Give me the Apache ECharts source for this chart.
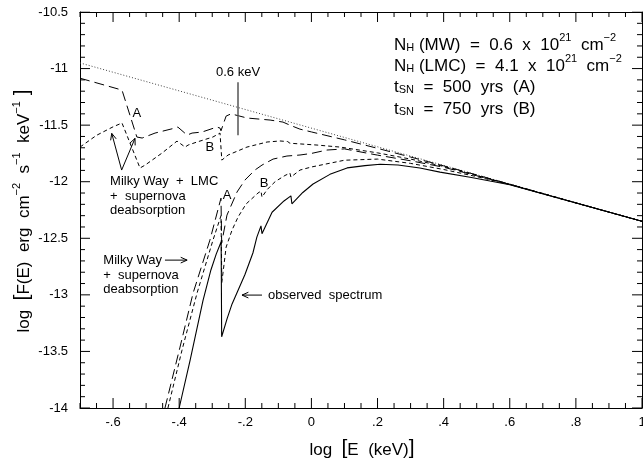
<!DOCTYPE html>
<html>
<head>
<meta charset="utf-8">
<script src="https://cdn.jsdelivr.net/npm/echarts@6/dist/echarts.min.js"></script>
<style>
html, body { margin: 0; padding: 0; background: #fff; }
#chart { width: 643px; height: 461px; }
</style>
</head>
<body>
<div id="chart"></div>
<script>
// log E (keV) against log F(E)
const intrinsic = [[-0.7, -10.95], [1.0, -12.35]];

const observed = [
  [-0.40, -14.0], [-0.367, -13.58], [-0.328, -13.05], [-0.304, -12.78], [-0.288, -12.64], [-0.273, -12.53],
  [-0.2715, -13.37], [-0.255, -13.21], [-0.240, -13.08], [-0.201, -12.82], [-0.177, -12.63], [-0.165, -12.49],
  [-0.1525, -12.39], [-0.1495, -12.46], [-0.119, -12.27], [-0.083, -12.17], [-0.062, -12.125], [-0.059, -12.195],
  [-0.026, -12.095], [0.005, -12.02], [0.056, -11.935], [0.108, -11.878], [0.110, -11.89], [0.162, -11.858],
  [0.208, -11.846], [0.262, -11.852], [0.328, -11.879], [0.389, -11.915], [0.48, -11.96], [0.54, -11.994],
  [0.6, -12.027], [0.8, -12.188], [1.0, -12.35]
];

// Milky Way + LMC + supernova deabsorption
const mwLmcA = [
  [-0.7, -11.085], [-0.573, -11.19], [-0.528, -11.605], [-0.512, -11.614], [-0.473, -11.57], [-0.413, -11.526],
  [-0.404, -11.517], [-0.376, -11.588], [-0.361, -11.57], [-0.331, -11.561], [-0.286, -11.517], [-0.2765, -11.526],
  [-0.2735, -11.55], [-0.258, -11.42], [-0.243, -11.40], [-0.195, -11.437], [-0.125, -11.455], [-0.086, -11.473],
  [-0.065, -11.50], [-0.035, -11.535], [0.0, -11.56], [0.1, -11.63], [0.2, -11.705], [0.3, -11.782],
  [0.4, -11.86], [0.5, -11.94], [0.6, -12.022], [0.8, -12.187], [1.0, -12.35]
];
const mwLmcB = [
  [-0.7, -11.694], [-0.65, -11.59], [-0.6, -11.515], [-0.573, -11.481], [-0.5185, -11.879], [-0.503, -11.853],
  [-0.452, -11.747], [-0.4066, -11.641], [-0.403, -11.632], [-0.382, -11.694], [-0.373, -11.676], [-0.346, -11.649],
  [-0.298, -11.605], [-0.2765, -11.57], [-0.273, -11.565], [-0.271, -11.809], [-0.252, -11.764], [-0.195, -11.694],
  [-0.134, -11.649], [-0.095, -11.64], [-0.072, -11.645], [-0.065, -11.66], [0.017, -11.676], [0.087, -11.694],
  [0.2, -11.745], [0.3, -11.80], [0.4, -11.865], [0.5, -11.945], [0.6, -12.023], [0.8, -12.187], [1.0, -12.35]
];

// Milky Way + supernova deabsorption
const mwA = [
  [-0.443, -14.0], [-0.3975, -13.462], [-0.358, -12.985], [-0.307, -12.516], [-0.2735, -12.145], [-0.2715, -12.542],
  [-0.2554, -12.295], [-0.225, -12.091], [-0.201, -11.985], [-0.171, -11.897], [-0.1495, -11.853], [-0.116, -11.80],
  [-0.074, -11.773], [-0.0345, -11.764], [0.0, -11.75], [0.047, -11.72], [0.1, -11.71], [0.2, -11.765],
  [0.3, -11.815], [0.4, -11.872], [0.5, -11.947], [0.6, -12.024], [0.8, -12.187], [1.0, -12.35]
];
const mwB = [
  [-0.434, -14.0], [-0.3915, -13.489], [-0.346, -12.985], [-0.2977, -12.516], [-0.2735, -12.30], [-0.271, -12.89],
  [-0.258, -12.578], [-0.240, -12.427], [-0.222, -12.313], [-0.198, -12.198], [-0.1616, -12.10], [-0.1525, -12.083],
  [-0.1495, -12.136], [-0.134, -12.07], [-0.110, -12.0], [-0.080, -11.945], [-0.065, -11.924], [-0.062, -11.959],
  [-0.0345, -11.897], [0.0, -11.87], [0.1, -11.81], [0.2, -11.80], [0.3, -11.838], [0.4, -11.892],
  [0.5, -11.955], [0.6, -12.025], [0.8, -12.188], [1.0, -12.35]
];

// tick positions
const xMajor = [-0.6, -0.4, -0.2, 0, 0.2, 0.4, 0.6, 0.8, 1];
const xTickVals = [-0.7, -0.65, -0.6, -0.55, -0.5, -0.45, -0.4, -0.35, -0.3, -0.25, -0.2, -0.15,
  -0.1, -0.05, 0, 0.05, 0.1, 0.15, 0.2, 0.25, 0.3, 0.35, 0.4, 0.45, 0.5, 0.55, 0.6, 0.65, 0.7,
  0.75, 0.8, 0.85, 0.9, 0.95, 1];
const yMajor = [-14, -13.5, -13, -12.5, -12, -11.5, -11, -10.5];
const yTickVals = [-14, -13.9, -13.8, -13.7, -13.6, -13.5, -13.4, -13.3, -13.2, -13.1, -13, -12.9,
  -12.8, -12.7, -12.6, -12.5, -12.4, -12.3, -12.2, -12.1, -12, -11.9, -11.8, -11.7, -11.6, -11.5,
  -11.4, -11.3, -11.2, -11.1, -11, -10.9, -10.8, -10.7, -10.6, -10.5];
const edgeMarker = [[-0.222, -11.12], [-0.222, -11.59]]; // 0.6 keV

const X_MIN = -0.7, X_MAX = 1, Y_MIN = -14, Y_MAX = -10.5;
const FONT = '"Liberation Sans", Arial, Helvetica, sans-serif';
const GRID = { left: 80, right: 1, top: 12, bottom: 53 };
const GRID_W = 643 - GRID.left - GRID.right, GRID_H = 461 - GRID.top - GRID.bottom;
const dxPx = (X_MAX - X_MIN) / GRID_W, dyPx = (Y_MAX - Y_MIN) / GRID_H;
const MAJOR_LEN = 10, MINOR_LEN = 5;

// inward tick marks on all four sides as broken line segments in data space
const tickPath = [];
xTickVals.forEach(function (v) {
  const len = (xMajor.indexOf(v) >= 0 ? MAJOR_LEN : MINOR_LEN) * dyPx;
  tickPath.push([v, Y_MIN], [v, Y_MIN + len], [v, '-']);
  tickPath.push([v, Y_MAX], [v, Y_MAX - len], [v, '-']);
});
yTickVals.forEach(function (v) {
  const len = (yMajor.indexOf(v) >= 0 ? MAJOR_LEN : MINOR_LEN) * dxPx;
  tickPath.push([X_MIN, v], [X_MIN + len, v], ['-', v]);
  tickPath.push([X_MAX, v], [X_MAX - len, v], ['-', v]);
});

const chart = echarts.init(document.getElementById('chart'));

function curve(name, data, dash, color, z, width) {
  return {
    name: name, type: 'line', data: data, showSymbol: false, symbol: 'none',
    xAxisIndex: 0, yAxisIndex: 0, z: z || 3, silent: true, connectNulls: false,
    lineStyle: { color: color || '#000', width: width || 1, type: dash }
  };
}

const dotted = curve('unabsorbed', intrinsic, [1, 2], '#444', 2);
dotted.markLine = {
  silent: true, animation: false, symbol: ['none', 'none'], label: { show: false },
  emphasis: { disabled: true },
  lineStyle: { type: 'solid', color: '#555', width: 1.5 },
  data: [[{ coord: edgeMarker[0] }, { coord: edgeMarker[1] }]]
};

const frameLine = { show: true, onZero: false, lineStyle: { color: '#000', width: 1 } };
chart.setOption({
  animation: false,
  backgroundColor: '#fff',
  grid: Object.assign({ containLabel: false, outerBoundsMode: 'none' }, GRID),
  xAxis: [
    { type: 'value', min: X_MIN, max: X_MAX, position: 'bottom', axisLine: frameLine,
      axisTick: { show: false }, splitLine: { show: false },
      axisLabel: {
        show: true, customValues: xMajor, margin: 8, fontSize: 13, color: '#000', fontFamily: FONT,
        formatter: v => v === 0 ? '0' : String(v).replace('0.', '.')
      } },
    { type: 'value', min: X_MIN, max: X_MAX, position: 'top', axisLine: frameLine,
      axisTick: { show: false }, splitLine: { show: false }, axisLabel: { show: false } }
  ],
  yAxis: [
    { type: 'value', min: Y_MIN, max: Y_MAX, interval: 0.5, position: 'left', axisLine: frameLine,
      axisTick: { show: false }, splitLine: { show: false },
      axisLabel: { margin: 12, fontSize: 13, color: '#000', fontFamily: FONT } },
    { type: 'value', min: Y_MIN, max: Y_MAX, interval: 0.5, position: 'right', axisLine: frameLine,
      axisTick: { show: false }, splitLine: { show: false }, axisLabel: { show: false } }
  ],
  series: [
    dotted,
    curve('MW+LMC A', mwLmcA, [10, 5]),
    curve('MW+LMC B', mwLmcB, [4, 3]),
    curve('MW A', mwA, [10, 5]),
    curve('MW B', mwB, [4, 3]),
    curve('observed', observed, 'solid', '#000', 4, 1.1),
    curve('frame ticks', tickPath, 'solid', '#000', 6, 1)
  ]
});

// annotations placed through the grid's scales
const toPx = p => chart.convertToPixel({ xAxisIndex: 0, yAxisIndex: 0 }, p);

function seg(x1, y1, x2, y2) {
  return { type: 'line', silent: true, shape: { x1: x1, y1: y1, x2: x2, y2: y2 },
    style: { stroke: '#000', lineWidth: 1 } };
}
function note(str, at, align, size) {
  const p = toPx(at);
  return { type: 'text', x: p[0], y: p[1], silent: true,
    style: { text: str, fill: '#000', font: (size || 13) + 'px ' + FONT,
      textAlign: align || 'left', textVerticalAlign: 'middle' } };
}
function arrow(from, to) {
  const a = toPx(from), b = toPx(to);
  const ang = Math.atan2(b[1] - a[1], b[0] - a[0]);
  const h = 7, w = 0.42;
  const p1 = [b[0] - h * Math.cos(ang - w), b[1] - h * Math.sin(ang - w)];
  const p2 = [b[0] - h * Math.cos(ang + w), b[1] - h * Math.sin(ang + w)];
  return [
    seg(a[0], a[1], b[0], b[1]),
    { type: 'polyline', silent: true, shape: { points: [p1, b, p2] },
      style: { stroke: '#000', lineWidth: 1, fill: null } }
  ];
}

const rich = {
  n: { fontSize: 17, lineHeight: 17, verticalAlign: 'bottom', fontFamily: FONT, fill: '#000' },
  sub: { fontSize: 11, lineHeight: 17, verticalAlign: 'bottom', fontFamily: FONT, fill: '#000' },
  sup: { fontSize: 11, lineHeight: 21, verticalAlign: 'top', fontFamily: FONT, fill: '#000' },
  b: { fontSize: 21, lineHeight: 21, verticalAlign: 'middle', fontFamily: FONT, fill: '#000' }
};
function richText(str, x, y, align, rot) {
  return { type: 'text', x: x, y: y, rotation: rot || 0, silent: true,
    style: { text: str, rich: rich, fill: '#000', font: '17px ' + FONT,
      textAlign: align || 'left', textVerticalAlign: 'middle' } };
}

const graphics = [
  note('0.6 keV', [-0.222, -11.03], 'center', 13),
  note('A', [-0.528, -11.393], 'center', 13),
  note('B', [-0.307, -11.70], 'center', 13),
  note('A', [-0.255, -12.118], 'center', 13),
  note('B', [-0.143, -12.012], 'center', 13),
  note('Milky Way  +  LMC', [-0.609, -11.994]),
  note('+  supernova', [-0.609, -12.127]),
  note('deabsorption', [-0.609, -12.251]),
  note('Milky Way', [-0.6295, -12.693]),
  note('+  supernova', [-0.6295, -12.825]),
  note('deabsorption', [-0.6295, -12.952]),
  note('observed  spectrum', [-0.131, -13.002]),
  ...arrow([-0.574, -11.897], [-0.604, -11.573]),
  ...arrow([-0.574, -11.897], [-0.5336, -11.617]),
  ...arrow([-0.443, -12.693], [-0.376, -12.693]),
  ...arrow([-0.1495, -13.002], [-0.21, -13.002]),
  richText('{n|N}{sub|H}{n| (MW)  =  0.6  x  10}{sup|21}{n|  cm}{sup|−2}', 394, 43),
  richText('{n|N}{sub|H}{n| (LMC)  =  4.1  x  10}{sup|21}{n|  cm}{sup|−2}', 394, 64),
  richText('{n|t}{sub|SN}{n|  =  500  yrs  (A)}', 394, 87),
  richText('{n|t}{sub|SN}{n|  =  750  yrs  (B)}', 394, 109),
  richText('{n|log  }{b|[}{n|F(E)  erg  cm}{sup|−2}{n|  s}{sup|−1}{n|  keV}{sup|−1}{b| ]}', 22, 211, 'center', Math.PI / 2),
  richText('{n|log  }{b|[}{n|E  (keV)}{b|]}', 362, 448, 'center')
];
chart.setOption({ graphic: graphics });
</script>
</body>
</html>
